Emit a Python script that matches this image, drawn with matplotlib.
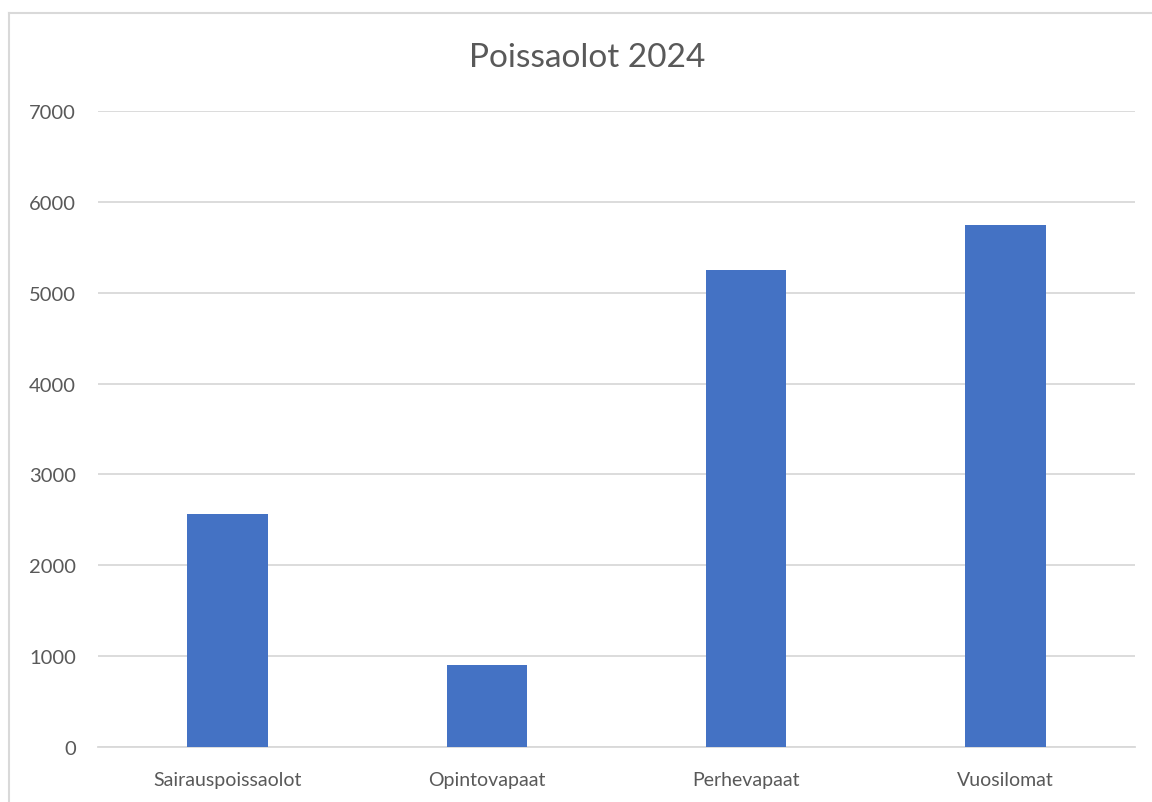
import matplotlib
matplotlib.use("Agg")
import matplotlib.pyplot as plt
from matplotlib.lines import Line2D

categories = ["Sairauspoissaolot", "Opintovapaat", "Perhevapaat", "Vuosilomat"]
values = [2560, 900, 5250, 5750]
yticks = [0, 1000, 2000, 3000, 4000, 5000, 6000, 7000]

txt = "#595959"
grid = "#D9D9D9"
plt.rcParams["font.family"] = ["Lato", "DejaVu Sans"]

fig = plt.figure(figsize=(11.52, 8.03), dpi=100)
ax = fig.add_axes([98/1152, 1-748/803, (1135-98)/1152, (748-112)/803])

x = range(len(categories))
ax.bar(x, values, width=0.31, color="#4472C4", zorder=3)
ax.set_xlim(-0.5, len(categories)-0.5)
ax.set_ylim(0, 7000)
ax.set_yticks(yticks)
ax.set_xticks(list(x))
ax.set_xticklabels(categories)
ax.tick_params(axis="both", length=0, colors=txt, labelsize=14)
ax.tick_params(axis="y", labelsize=14.5, pad=16)
ax.tick_params(axis="x", pad=17)
ax.grid(axis="y", color=grid, linewidth=1.3, zorder=0)
for s in ["top", "right", "left"]:
    ax.spines[s].set_visible(False)
ax.spines["bottom"].set_color(grid)
ax.spines["bottom"].set_linewidth(1.3)

fig.text(587/1152, 1-58/803, "Poissaolot 2024", ha="center", va="center",
         fontsize=24, color=txt)

# chart frame (top and left edges visible)
fig.add_artist(Line2D([8.5/1152, 1], [1-13.5/803]*2, color=grid, linewidth=1.5))
fig.add_artist(Line2D([8.5/1152]*2, [0, 1-13.5/803], color=grid, linewidth=1.5))

fig.savefig("out.png", dpi=100)
